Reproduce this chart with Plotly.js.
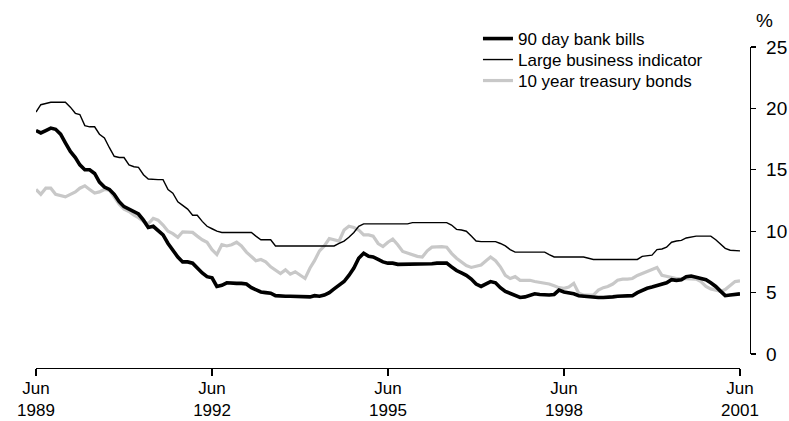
<!DOCTYPE html>
<html>
<head>
<meta charset="utf-8">
<script src="https://cdn.plot.ly/plotly-3.0.1.min.js"></script>
<style>html,body{margin:0;padding:0;background:#fff;}#chart{width:789px;height:421px;}</style>
</head>
<body>
<div id="chart"></div>
<script>
// Monthly observations, Jun 1989 .. Jun 2001
var startYear = 1989, startMonth = 6;

var bankBills = [
18.2,18.0,18.2,18.4,18.3,17.9,17.2,16.5,16.0,15.4,15.0,15.0,14.7,14.0,13.6,13.4,13.0,12.4,12.0,11.8,
11.6,11.4,10.9,10.3,10.4,10.1,9.7,9.0,8.4,7.9,7.5,7.5,7.4,7.0,6.6,6.3,6.2,5.5,5.6,5.8,
5.75,5.75,5.75,5.7,5.4,5.2,5.05,5.0,4.95,4.75,4.7,4.7,4.7,4.7,4.7,4.7,4.65,4.75,4.7,4.8,
5.0,5.3,5.6,5.9,6.4,7.0,7.8,8.2,7.95,7.9,7.7,7.5,7.4,7.4,7.3,7.3,7.3,7.3,7.3,7.3,
7.3,7.35,7.4,7.4,7.4,7.1,6.8,6.6,6.4,6.1,5.7,5.5,5.7,5.9,5.8,5.4,5.1,4.95,4.75,4.6,
4.65,4.75,4.9,4.85,4.8,4.8,4.85,5.2,5.05,5.0,4.9,4.75,4.7,4.7,4.65,4.6,4.6,4.6,4.65,4.7,
4.7,4.7,4.75,5.0,5.2,5.35,5.45,5.55,5.7,5.8,6.05,6.0,6.05,6.3,6.35,6.25,6.2,6.05,5.8,5.5,
5.1,4.75,4.8,4.85,4.9
];

var largeBusiness = [
19.7,20.3,20.4,20.5,20.5,20.5,20.5,20.1,19.6,19.5,18.6,18.5,18.5,17.9,17.6,16.8,16.1,16.0,16.0,15.4,
15.25,15.2,14.6,14.25,14.2,14.2,14.2,13.4,13.1,12.4,12.1,11.8,11.3,11.3,10.8,10.4,10.2,10.0,9.9,9.9,
9.9,9.9,9.9,9.9,9.9,9.6,9.3,9.3,9.3,8.8,8.8,8.8,8.8,8.8,8.8,8.8,8.8,8.8,8.8,8.8,
8.8,8.8,9.0,9.2,9.5,9.9,10.4,10.6,10.6,10.6,10.6,10.6,10.6,10.6,10.6,10.6,10.6,10.7,10.7,10.7,
10.7,10.7,10.7,10.7,10.7,10.5,10.15,10.1,10.0,9.6,9.2,9.15,9.15,9.15,9.15,9.0,8.8,8.5,8.3,8.3,
8.3,8.3,8.3,8.3,8.3,8.1,7.9,7.9,7.9,7.9,7.9,7.9,7.9,7.8,7.7,7.7,7.7,7.7,7.7,7.7,
7.7,7.7,7.7,7.7,7.95,8.0,8.05,8.5,8.55,8.7,9.1,9.2,9.25,9.45,9.55,9.6,9.6,9.6,9.6,9.3,
8.9,8.6,8.45,8.4,8.4
];

var treasuryBonds = [
13.4,13.0,13.5,13.5,13.0,12.9,12.8,13.0,13.2,13.5,13.7,13.4,13.1,13.2,13.4,13.35,12.8,12.2,11.8,11.6,
11.3,11.1,10.8,10.6,11.05,10.9,10.5,10.0,9.8,9.5,9.95,9.95,9.9,9.6,9.3,9.1,8.5,8.1,8.9,8.8,
8.9,9.1,8.8,8.3,7.9,7.6,7.7,7.5,7.1,6.8,6.55,6.85,6.5,6.7,6.4,6.15,7.0,7.6,8.4,8.8,
9.4,9.3,9.2,10.1,10.4,10.3,10.1,9.7,9.7,9.6,9.0,8.75,9.1,9.35,8.9,8.35,8.2,8.05,7.95,7.9,
8.4,8.7,8.75,8.75,8.7,8.2,7.8,7.5,7.2,7.05,7.15,7.25,7.6,7.9,7.6,7.1,6.4,6.15,6.3,6.0,
6.0,6.0,5.9,5.85,5.8,5.7,5.55,5.4,5.35,5.45,5.75,4.95,4.8,4.8,4.8,5.2,5.4,5.5,5.7,6.0,
6.1,6.1,6.15,6.4,6.55,6.7,6.9,7.05,6.4,6.3,6.2,6.15,6.15,6.15,6.15,6.1,5.9,5.5,5.3,5.2,
5.1,5.25,5.6,5.9,5.95
];

var seriesNames = ['90 day bank bills', 'Large business indicator', '10 year treasury bonds'];
var tickDates = ['1989-06-01','1992-06-01','1995-06-01','1998-06-01','2001-06-01'];
var tickText = ['Jun<br>1989','Jun<br>1992','Jun<br>1995','Jun<br>1998','Jun<br>2001'];
var yTicks = [0,5,10,15,20,25];

function monthDates(n){
  var out = [];
  for (var i = 0; i < n; i++) {
    var mIdx = startMonth - 1 + i;
    var y = startYear + Math.floor(mIdx / 12);
    var m = (mIdx % 12) + 1;
    out.push(y + '-' + (m < 10 ? '0' : '') + m + '-01');
  }
  return out;
}
var dates = monthDates(bankBills.length);

var traces = [
  {x: dates, y: treasuryBonds, name: seriesNames[2], type: 'scatter', mode: 'lines',
   line: {color: '#c8c8c8', width: 3.2}, legend: 'legend3'},
  {x: dates, y: largeBusiness, name: seriesNames[1], type: 'scatter', mode: 'lines',
   line: {color: '#000000', width: 1.4}, legend: 'legend2'},
  {x: dates, y: bankBills, name: seriesNames[0], type: 'scatter', mode: 'lines',
   line: {color: '#000000', width: 3.6}, legend: 'legend'}
];

var tickFont = {family: 'Liberation Sans, Arial, sans-serif', size: 17, color: '#000'};
var yTickFont = {family: 'Liberation Sans, Arial, sans-serif', size: 19, color: '#000'};
var legFont = {family: 'Liberation Sans, Arial, sans-serif', size: 17, color: '#000'};

function legendAt(yPaper){
  return {x: 0.619, y: yPaper, xanchor: 'left', yanchor: 'middle',
          bgcolor: 'rgba(0,0,0,0)', font: legFont, itemwidth: 30};
}

var layout = {
  width: 789, height: 421,
  margin: {l: 36, r: 39, t: 47, b: 53, pad: 0},
  paper_bgcolor: '#fff', plot_bgcolor: '#fff',
  showlegend: true,
  legend: legendAt(1.0249),
  legend2: legendAt(0.9595),
  legend3: legendAt(0.8941),
  xaxis: {
    type: 'date', domain: [0, 0.986],
    range: [tickDates[0], tickDates[tickDates.length - 1]],
    anchor: 'free', position: 0,
    showline: true, linecolor: '#000', linewidth: 1.3,
    showgrid: false, zeroline: false,
    ticks: 'outside', ticklen: 7, tickwidth: 1.3, tickcolor: '#000',
    tickmode: 'array', tickvals: tickDates, ticktext: tickText,
    tickfont: tickFont, ticklabelstandoff: -3
  },
  yaxis: {
    domain: [0.0436, 1], range: [0, 25],
    anchor: 'free', position: 1, side: 'right',
    showline: true, linecolor: '#000', linewidth: 1.3,
    showgrid: false, zeroline: false,
    ticks: 'outside', ticklen: 5, tickwidth: 1.3, tickcolor: '#000',
    tickmode: 'array', tickvals: yTicks,
    tickfont: yTickFont, ticklabelstandoff: 6
  },
  annotations: [{
    text: '%', xref: 'paper', yref: 'paper', x: 1.021, y: 1.081,
    xanchor: 'center', yanchor: 'middle', showarrow: false,
    font: yTickFont
  }]
};

Plotly.newPlot('chart', traces, layout, {displayModeBar: false, staticPlot: true});
</script>
</body>
</html>
